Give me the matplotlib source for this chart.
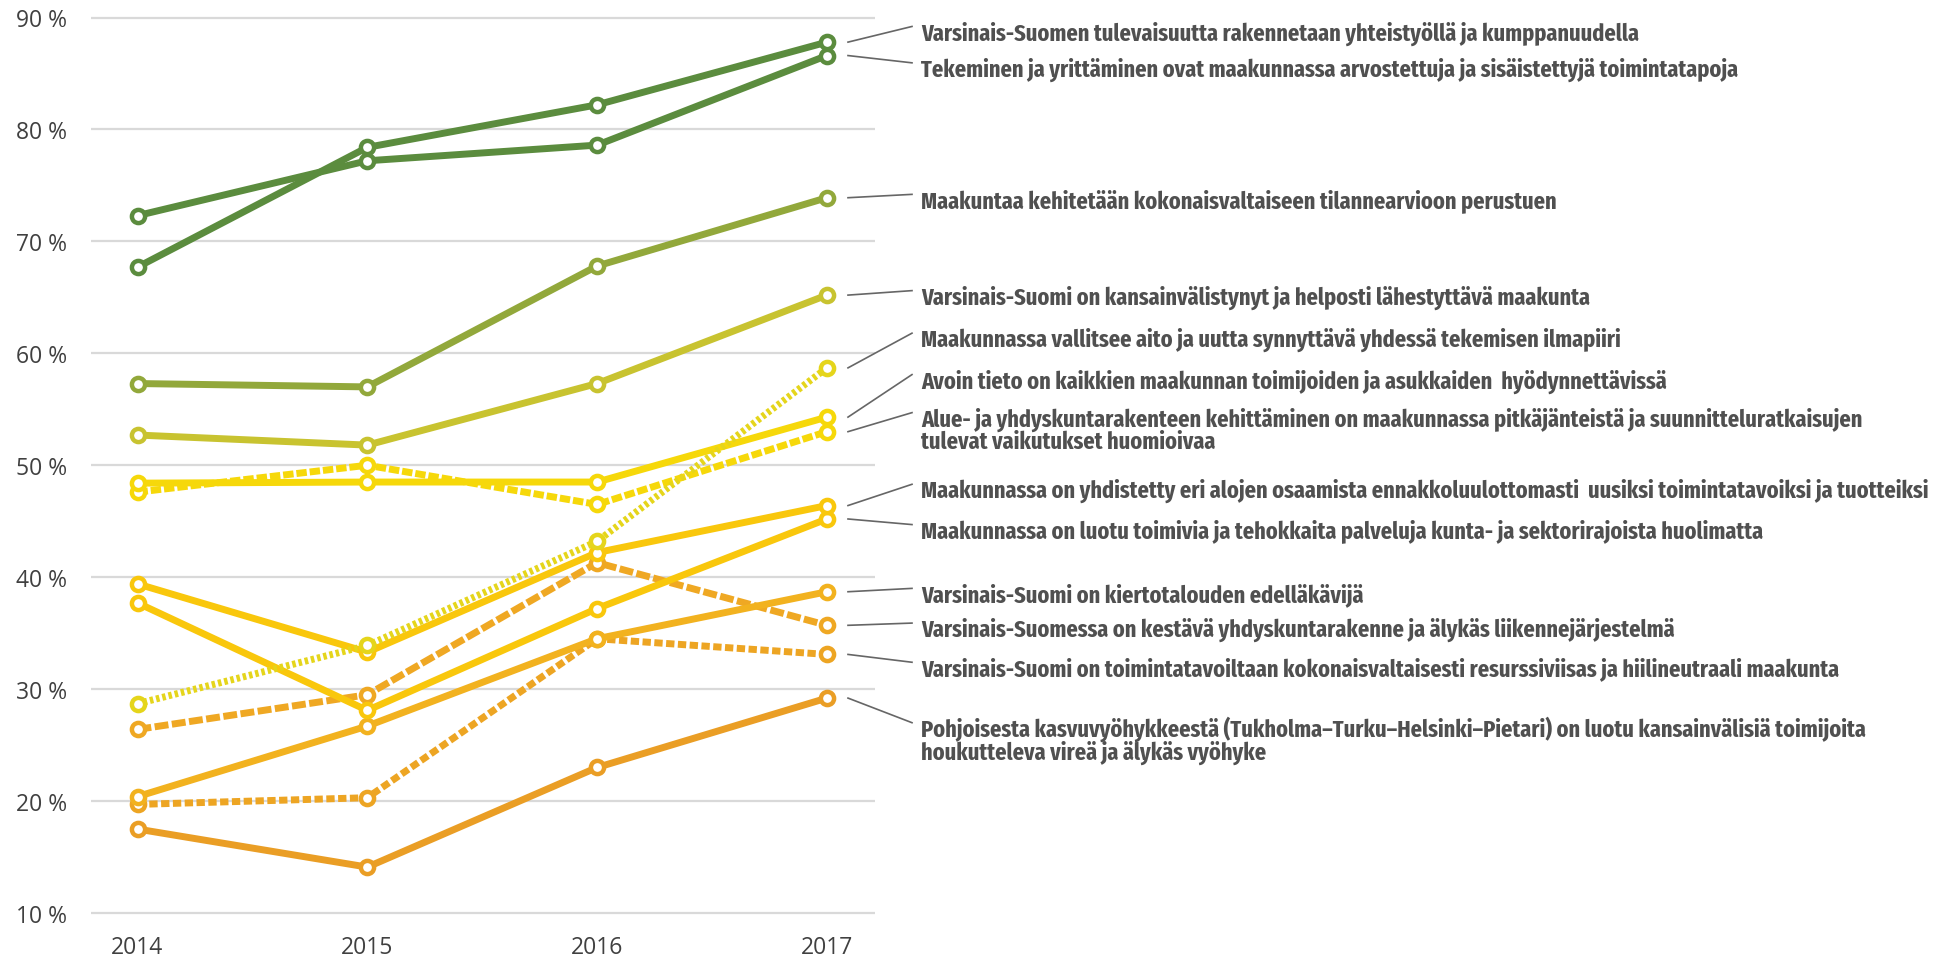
import matplotlib
matplotlib.use("Agg")
import matplotlib.pyplot as plt
from matplotlib import font_manager
from matplotlib.font_manager import FontProperties

years = ["2014", "2015", "2016", "2017"]

labels = [
    "Varsinais-Suomen tulevaisuutta rakennetaan yhteistyöllä ja kumppanuudella",
    "Tekeminen ja yrittäminen ovat maakunnassa arvostettuja ja sisäistettyjä toimintatapoja",
    "Maakuntaa kehitetään kokonaisvaltaiseen tilannearvioon perustuen",
    "Varsinais-Suomi on kansainvälistynyt ja helposti lähestyttävä maakunta",
    "Maakunnassa vallitsee aito ja uutta synnyttävä yhdessä tekemisen ilmapiiri",
    "Avoin tieto on kaikkien maakunnan toimijoiden ja asukkaiden  hyödynnettävissä",
    "Alue- ja yhdyskuntarakenteen kehittäminen on maakunnassa pitkäjänteistä ja suunnitteluratkaisujen\ntulevat vaikutukset huomioivaa",
    "Maakunnassa on yhdistetty eri alojen osaamista ennakkoluulottomasti  uusiksi toimintatavoiksi ja tuotteiksi",
    "Maakunnassa on luotu toimivia ja tehokkaita palveluja kunta- ja sektorirajoista huolimatta",
    "Varsinais-Suomi on kiertotalouden edelläkävijä",
    "Varsinais-Suomessa on kestävä yhdyskuntarakenne ja älykäs liikennejärjestelmä",
    "Varsinais-Suomi on toimintatavoiltaan kokonaisvaltaisesti resurssiviisas ja hiilineutraali maakunta",
    "Pohjoisesta kasvuvyöhykkeestä (Tukholma–Turku–Helsinki–Pietari) on luotu kansainvälisiä toimijoita\nhoukutteleva vireä ja älykäs vyöhyke",
]

values = [
    [67.7, 78.4, 82.2, 87.8],
    [72.3, 77.2, 78.6, 86.6],
    [57.3, 57.0, 67.8, 73.9],
    [52.7, 51.8, 57.3, 65.2],
    [28.7, 33.9, 43.2, 58.7],
    [48.4, 48.5, 48.5, 54.3],
    [47.6, 50.0, 46.5, 53.0],
    [39.4, 33.3, 42.2, 46.4],
    [37.7, 28.1, 37.2, 45.2],
    [20.4, 26.7, 34.5, 38.7],
    [26.4, 29.5, 41.3, 35.7],
    [19.7, 20.3, 34.5, 33.1],
    [17.5, 14.1, 23.0, 29.2],
]

# y position (in %) of the first text line of each label
label_y = [88.9, 85.65, 73.9, 65.3, 61.5, 57.8, 54.4, 48.0, 44.4, 38.7, 35.6, 32.1, 26.7]

colors = ["#5B8C3E", "#5B8C3E", "#92A83B", "#C8C330", "#E5D51B", "#F6D80A", "#F6D80A",
          "#F9C70C", "#F9C70C", "#F2B21F", "#EFA823", "#EDA523", "#EA9E25"]

styles = ["solid", "solid", "solid", "solid", (0, (0.5, 0.42)), "solid", (0, (1.5, 0.42)),
          "solid", "solid", "solid", (0, (2.0, 0.5)), (0, (1.2, 0.5)), "solid"]

W, H = 1946, 962
fig = plt.figure(figsize=(W / 100, H / 100), dpi=100)

# axes geometry
x0px, x1px = 91, 875
px2014, step = 137.5, 229.8
y90px, y10px = 18.5, 914
ppu = (y10px - y90px) / 80.0
ylo, yhi = 9, 91
ax_top = y90px - (yhi - 90) * ppu
ax_bot = y10px + (10 - ylo) * ppu
ax = fig.add_axes([x0px / W, 1 - ax_bot / H, (x1px - x0px) / W, (ax_bot - ax_top) / H])
ax.set_xlim((x0px - px2014) / step, (x1px - px2014) / step)
ax.set_ylim(ylo, yhi)

ax.set_yticks(range(10, 91, 10))
ax.set_yticklabels([f"{v} %" for v in range(10, 91, 10)])
ax.set_xticks(range(len(years)))
ax.set_xticklabels(years)
ax.grid(axis="y", color="#d9d9d9", linewidth=1.6)
ax.set_axisbelow(True)
for s in ax.spines.values():
    s.set_visible(False)
ax.tick_params(length=0, labelsize=16.5, labelcolor="#404040")
ax.tick_params(axis="y", pad=17)
ax.tick_params(axis="x", pad=8)
for t in ax.get_xticklabels() + ax.get_yticklabels():
    t.set_family("Open Sans")

xs = list(range(len(years)))
for i in range(len(values) - 1, -1, -1):
    ax.plot(xs, values[i], color=colors[i], linewidth=5.0, linestyle=styles[i],
            marker="o", markersize=9.5, markerfacecolor="white",
            markeredgecolor=colors[i], markeredgewidth=3.2, solid_capstyle="butt",
            dash_capstyle="butt", zorder=3)

# choose the narrowest bold font that is installed
def pick_font():
    cond = []
    for f in font_manager.fontManager.ttflist:
        fn = f.fname.lower().replace("_", "").replace("-", "")
        if "italic" in fn or "oblique" in fn:
            continue
        if "extracondensed" in fn or "ultracondensed" in fn:
            rank = 0
        elif "semicondensed" in fn:
            rank = 2
        elif "condensed" in fn or "narrow" in fn or str(f.stretch) == "condensed":
            rank = 1
        else:
            continue
        w = f.weight if isinstance(f.weight, int) else (700 if "bold" in str(f.weight) else 400)
        if 600 <= w <= 800:
            cond.append((rank, abs(w - 700), f.fname))
    if cond:
        cond.sort()
        return FontProperties(fname=cond[0][2])
    return FontProperties(family="Lato", weight="bold")

fp = pick_font()

xl0 = (848 - px2014) / step
xl1 = (912 - px2014) / step
xt = (921 - px2014) / step
line_gap = 23.3 / ppu

# size labels so the first one spans about the same width as in the reference
probe = fig.text(0, 0, labels[0], fontproperties=fp, fontsize=16)
renderer = fig.canvas.get_renderer()
wpx = probe.get_window_extent(renderer).width
probe.remove()
lab_size = min(16 * 726.0 / wpx, 17.5)

for i, lab in enumerate(labels):
    ax.plot([xl0, xl1], [values[i][3], label_y[i] + 0.3], color="#666666",
            linewidth=1.2, clip_on=False, zorder=2)
    for k, line in enumerate(lab.split("\n")):
        ax.text(xt, label_y[i] - k * line_gap, line, fontproperties=fp, fontsize=lab_size,
                color="#505050", va="center_baseline", ha="left", clip_on=False)

fig.savefig("out.png", dpi=100, facecolor="white")
